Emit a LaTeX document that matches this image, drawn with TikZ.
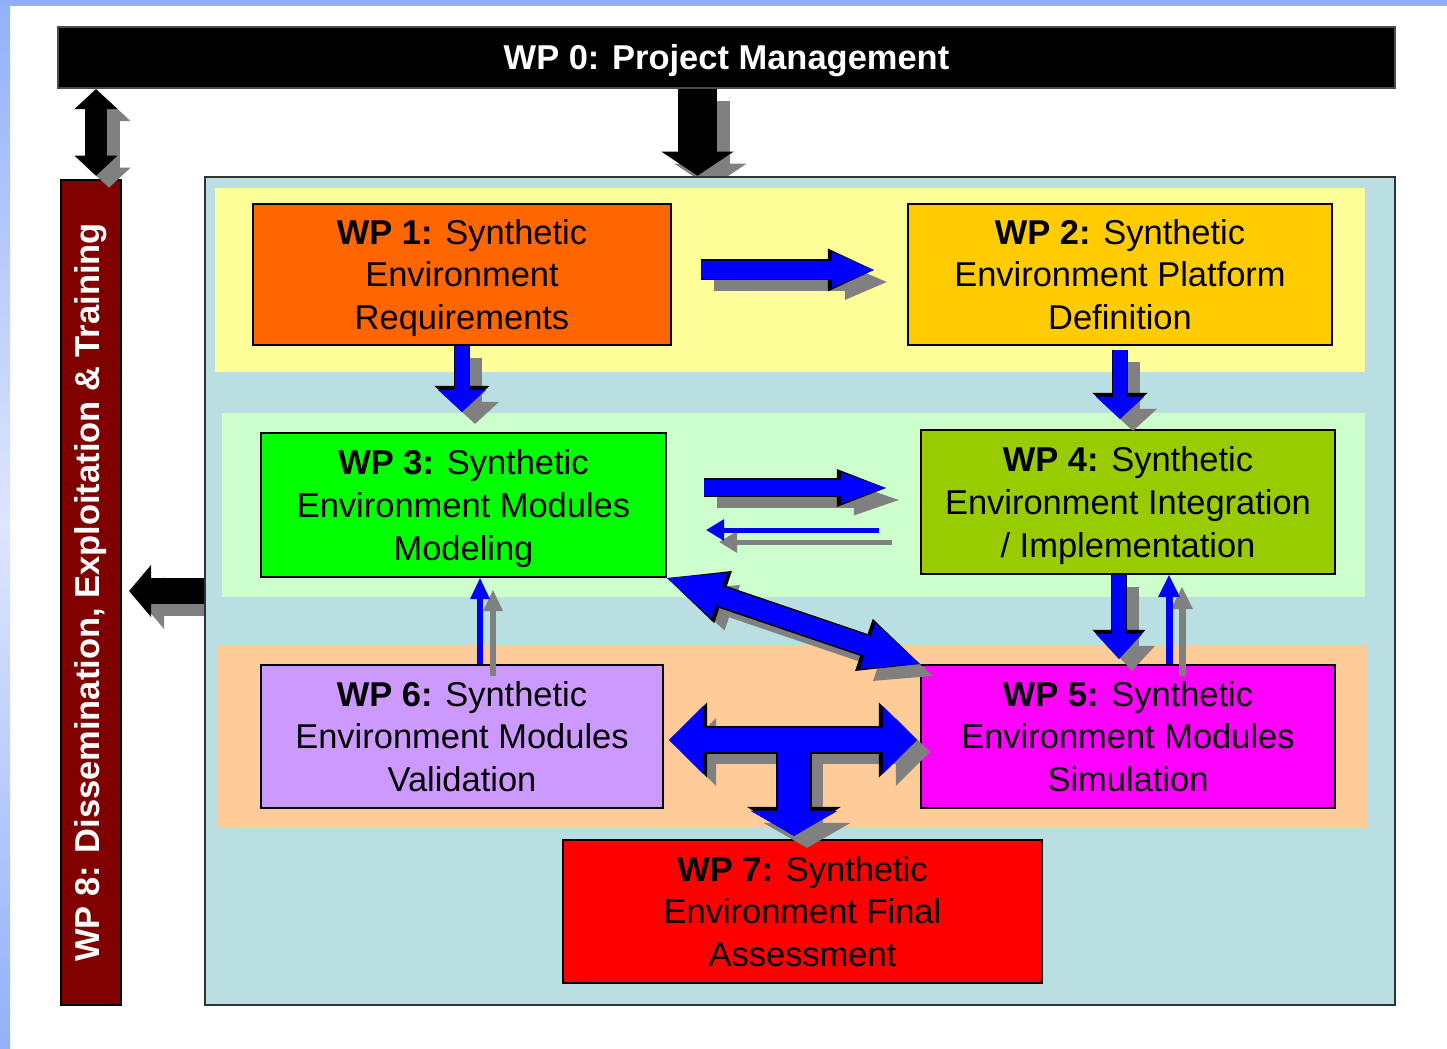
\documentclass[tikz,border=0pt]{standalone}
\usepackage{fontspec}
\setmainfont{Liberation Sans}
\usetikzlibrary{arrows.meta,calc,positioning}

\definecolor{frameblue}{RGB}{146,176,250}
\definecolor{framepale}{RGB}{222,230,252}
\definecolor{teal1}{RGB}{185,223,227}
\definecolor{yellow1}{RGB}{255,255,153}
\definecolor{green1}{RGB}{204,255,204}
\definecolor{peach1}{RGB}{255,204,153}
\definecolor{wpone}{RGB}{255,102,0}
\definecolor{wptwo}{RGB}{255,204,0}
\definecolor{wpthree}{RGB}{0,255,0}
\definecolor{wpfour}{RGB}{153,204,0}
\definecolor{wpfive}{RGB}{255,0,255}
\definecolor{wpsix}{RGB}{204,153,255}
\definecolor{wpseven}{RGB}{255,0,0}
\definecolor{wpeight}{RGB}{128,0,0}
\definecolor{arrowblue}{RGB}{0,0,255}
\definecolor{shadowgray}{RGB}{128,128,128}

\pgfdeclarelayer{back}
\pgfsetlayers{back,main}

\tikzstyle{wp} = [draw, rectangle, align=center, inner sep=0pt, text depth=0pt, line width=0.6pt, font=\fontsize{9.8}{12.2}\selectfont]
\tikzstyle{band} = [rectangle, inner sep=0pt]
\tikzstyle{bar} = [draw=black!70, rectangle, align=center, inner sep=0pt, text depth=0pt, line width=0.6pt, text=white, font=\bfseries\fontsize{9.8}{12.2}\selectfont]
\tikzset{
  onehead/.style n args={3}{line width=#1, -{Triangle[length=#2, width=#3, line width=0pt]}},
  twohead/.style n args={3}{line width=#1, {Triangle[length=#2, width=#3, line width=0pt]}-{Triangle[length=#2, width=#3, line width=0pt]}},
  shadow/.style={draw=shadowgray, transform canvas={xshift=0.13cm, yshift=-0.12cm}},
}

\begin{document}
\begin{tikzpicture}[x=0.01cm, y=-0.01cm]
	\useasboundingbox (0,0) rectangle (1447,1049);
	\fill[frameblue] (0,0) rectangle (1447,6);
	\shade[top color=frameblue, bottom color=frameblue, middle color=framepale] (0,0) rectangle (10,1049);

	\node [bar, fill=black, minimum width=13.37cm, minimum height=0.61cm] (wp0) at (726.5,57.5) {WP 0: Project Management};
	\node [bar, draw=black, fill=wpeight, minimum width=0.60cm, minimum height=8.25cm] (wp8) at (91,592.5) {\rotatebox{90}{WP 8: Dissemination, Exploitation \& Training}};
	\node [wp, draw=black!80, fill=teal1, minimum width=11.9cm, minimum height=8.28cm] (frame) at (800,591) {};

	% bands
	\node [band, fill=yellow1, minimum width=11.5cm, minimum height=1.84cm] (yband) at (790,280) {};
	\node [band, fill=green1, minimum width=11.43cm, minimum height=1.84cm] (gband) at (793.5,505) {};
	\node [band, fill=peach1, minimum width=11.49cm, minimum height=1.83cm] (pband) at (792.5,736.5) {};

	\node [wp, fill=wpone, minimum width=4.18cm, minimum height=1.41cm] (wp1) at (462,274.5) {\textbf{WP 1:} Synthetic\\Environment\\Requirements};
	\node [wp, fill=wptwo, minimum width=4.24cm, minimum height=1.41cm] (wp2) at (1120,274.5) {\textbf{WP 2:} Synthetic\\Environment Platform\\Definition};
	\node [wp, fill=wpthree, minimum width=4.05cm, minimum height=1.44cm] (wp3) at (463.5,505) {\textbf{WP 3:} Synthetic\\Environment Modules\\Modeling};
	\node [wp, fill=wpfour, minimum width=4.14cm, minimum height=1.44cm] (wp4) at (1128,502) {\textbf{WP 4:} Synthetic\\Environment Integration\\/ Implementation};
	\node [wp, fill=wpsix, minimum width=4.02cm, minimum height=1.43cm] (wp6) at (462,736.5) {\textbf{WP 6:} Synthetic\\Environment Modules\\Validation};
	\node [wp, fill=wpfive, minimum width=4.14cm, minimum height=1.43cm] (wp5) at (1128,736.5) {\textbf{WP 5:} Synthetic\\Environment Modules\\Simulation};
	\node [wp, fill=wpseven, minimum width=4.79cm, minimum height=1.43cm] (wp7) at (802.5,911.5) {\textbf{WP 7:} Synthetic\\Environment Final\\Assessment};

	% management and dissemination
	\begin{pgfonlayer}{back}
	\draw [draw=black, onehead={.39cm}{.24cm}{.72cm}, preaction={shadow, onehead={.39cm}{.24cm}{.72cm}}] ([xshift=-0.29cm]wp0.south) -- ([xshift=-0.29cm]wp0.south |- frame.north);
	\draw [draw=black, onehead={.25cm}{.22cm}{.52cm}, shorten >=0.07cm, preaction={shadow, onehead={.25cm}{.22cm}{.52cm}}] (frame.west) -- (frame.west -| wp8.east);
	\end{pgfonlayer}
	\draw [draw=black, twohead={.22cm}{.20cm}{.43cm}, shorten <=0.03cm, preaction={shadow, twohead={.22cm}{.20cm}{.43cm}}] ([xshift=0.05cm]wp8.north) -- ([xshift=0.05cm]wp8.north |- wp0.south);

	% first row
	\draw [draw=arrowblue, onehead={.18cm}{.42cm}{.36cm}, shorten <=0.29cm, shorten >=0.33cm, preaction={shadow, onehead={.18cm}{.42cm}{.36cm}}, preaction={draw=black, onehead={.21cm}{.46cm}{.43cm}}] ([yshift=0.045cm]wp1.east) -- ([yshift=0.045cm]wp2.west);
	\draw [draw=arrowblue, onehead={.13cm}{.22cm}{.48cm}, shorten >=0.2cm, preaction={shadow, onehead={.13cm}{.22cm}{.48cm}}, preaction={draw=black, onehead={.16cm}{.26cm}{.55cm}}] (wp1.south) -- (wp1.south |- wp3.north);
	\draw [draw=arrowblue, onehead={.13cm}{.22cm}{.48cm}, shorten <=0.04cm, shorten >=0.1cm, preaction={shadow, onehead={.13cm}{.22cm}{.48cm}}, preaction={draw=black, onehead={.16cm}{.26cm}{.55cm}}] (wp2.south) -- (wp2.south |- wp4.north);

	% second row
	\draw [draw=arrowblue, onehead={.16cm}{.45cm}{.31cm}, shorten <=0.37cm, shorten >=0.34cm, preaction={shadow, onehead={.16cm}{.45cm}{.31cm}}, preaction={draw=black, onehead={.19cm}{.49cm}{.38cm}}] ([yshift=0.17cm]wp3.east) -- ([yshift=0.17cm]wp3.east -| wp4.west);
	\draw [draw=arrowblue, onehead={.05cm}{.18cm}{.22cm}, shorten <=0.41cm, shorten >=0.39cm, preaction={shadow, onehead={.05cm}{.18cm}{.22cm}}] ([yshift=-0.25cm]wp3.east -| wp4.west) -- ([yshift=-0.25cm]wp3.east);
	\draw [draw=arrowblue, onehead={.13cm}{.25cm}{.46cm}, shorten >=0.05cm, preaction={shadow, onehead={.13cm}{.25cm}{.46cm}}, preaction={draw=black, onehead={.16cm}{.29cm}{.53cm}}] ([xshift=-0.09cm]wp4.south) -- ([xshift=-0.09cm]wp4.south |- wp5.north);
	\draw [draw=arrowblue, onehead={.07cm}{.22cm}{.22cm}, preaction={shadow, onehead={.07cm}{.22cm}{.22cm}}] ([xshift=0.41cm]wp5.north) -- ([xshift=0.41cm]wp5.north |- wp4.south);
	\draw [draw=arrowblue, onehead={.06cm}{.21cm}{.20cm}, preaction={shadow, onehead={.06cm}{.21cm}{.20cm}}] ([xshift=0.18cm]wp6.north) -- ([xshift=0.18cm]wp6.north |- wp3.south);
	\draw [draw=arrowblue, twohead={.20cm}{.55cm}{.48cm}, preaction={shadow, twohead={.20cm}{.55cm}{.48cm}}, preaction={draw=black, twohead={.23cm}{.59cm}{.55cm}}] (wp3.south east) -- (wp5.north west);

	% validation, simulation and assessment
	\coordinate (tee) at ($(wp6.east)!0.5!(wp5.west)+(2,0)$);
	\draw [shadow, twohead={.24cm}{.34cm}{.68cm}, shorten <=0.05cm, shorten >=0.03cm] ([yshift=-0.035cm]wp6.east) -- ([yshift=-0.035cm]wp5.west);
	\draw [shadow, onehead={.32cm}{.25cm}{.87cm}, shorten >=0.03cm] (tee) -- (tee |- wp7.north);
	\draw [draw=black, twohead={.27cm}{.38cm}{.75cm}, shorten <=0.05cm, shorten >=0.03cm] ([yshift=-0.035cm]wp6.east) -- ([yshift=-0.035cm]wp5.west);
	\draw [draw=black, onehead={.35cm}{.29cm}{.94cm}, shorten >=0.03cm] (tee) -- (tee |- wp7.north);
	\draw [draw=arrowblue, twohead={.24cm}{.34cm}{.68cm}, shorten <=0.05cm, shorten >=0.03cm] ([yshift=-0.035cm]wp6.east) -- ([yshift=-0.035cm]wp5.west);
	\draw [draw=arrowblue, onehead={.32cm}{.25cm}{.87cm}, shorten >=0.03cm] (tee) -- (tee |- wp7.north);
\end{tikzpicture}
\end{document}
